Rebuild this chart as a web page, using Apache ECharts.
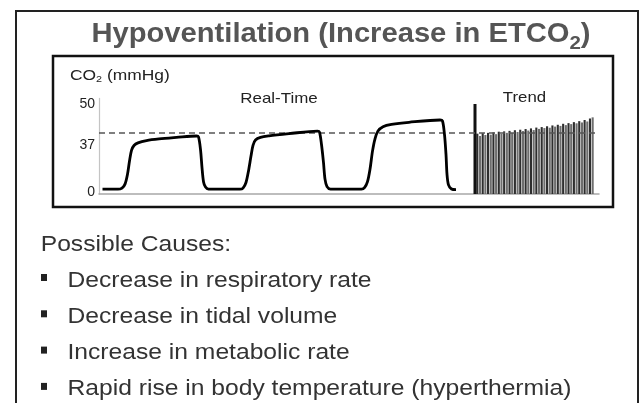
<!DOCTYPE html>
<html><head><meta charset="utf-8">
<script src="https://cdn.jsdelivr.net/npm/echarts@6/dist/echarts.min.js"></script>
<style>html,body{margin:0;padding:0;background:#fff}#c{width:641px;height:403px}</style>
</head><body><div id="c"></div>
<script>
// ---------- data ----------
const titleParts = ['Hypoventilation (Increase in ETCO', '2', ')'];
const yAxisTitleParts = ['CO', '2', ' (mmHg)'];
const realTimeLabel = 'Real-Time';
const trendLabel = 'Trend';
const yTickLabels = [0, 37, 50];
const normalLevel = 37;
// [time, CO2 mmHg]
const realTimeWave = [
  [0.7,2.9],[3.8,2.9],[4.6,3.6],[5.2,6.0],[5.7,12],[6.1,20],[6.5,26.5],[7.0,29.4],[7.8,31.0],[9.5,32.4],[12,33.4],[15.5,34.3],[19.5,35.2],[19.9,34.6],[20.3,27],[20.6,16],[20.9,7.5],[21.3,4.2],[21.9,3.0],[28.2,2.9],
  [28.8,3.6],[29.4,7],[29.9,14],[30.4,23],[30.8,29.5],[31.3,32.8],[32.3,34.4],[34,35.3],[38,36.6],[43.7,38.2],[44.1,37.6],[44.5,30],[44.9,19],[45.2,9],[45.6,4.5],[46.3,3.0],[52.5,2.9],
  [53.1,3.8],[53.7,7.5],[54.2,15],[54.7,26],[55.2,33.5],[55.8,38.2],[56.8,40.8],[58.5,42.2],[62,43.5],[68.2,44.9],[68.7,44.3],[69.1,36],[69.4,24],[69.6,12],[69.9,5.5],[70.5,3.0],[71.4,2.6]
];
const trendSeparator = [[75.2,0],[75.2,54.6]];
const trendBreaths = ['1','2','3','4','5','6','7','8','9','10','11','12','13','14','15','16','17','18','19','20','21','22',
  '23','24','25','26','27','28','29','30','31','32','33','34','35','36','37','38','39','40','41','42','43','44'];
const trendValues = [36.6,35.2,36.9,35.8,37.1,36.0,37.4,36.3,37.8,36.5,38.0,37.1,38.3,37.0,38.7,37.6,39.0,38.2,39.4,38.5,39.8,38.8,
  40.3,39.5,40.6,40.0,41.1,40.2,41.6,40.9,42.0,41.3,42.6,41.8,43.0,42.4,43.6,42.9,44.2,43.4,44.9,44.0,45.8,46.5];
const causesHeading = 'Possible Causes:';
const causes = [
  'Decrease in respiratory rate',
  'Decrease in tidal volume',
  'Increase in metabolic rate',
  'Rapid rise in body temperature (hyperthermia)'
];

// ---------- text helpers ----------
const FONT = '"Liberation Sans", Arial, Helvetica, sans-serif';
const mctx = document.createElement('canvas').getContext('2d');
function fontStr(size, weight){ return (weight||'normal') + ' ' + size + 'px ' + FONT; }
function runs(parts, anchorX, baseline, align, scaleX, fill){
  let total = 0;
  const widths = parts.map(p => { mctx.font = fontStr(p.size, p.weight); const w = mctx.measureText(p.text).width; total += w; return w; });
  let cx = align === 'center' ? -total/2 : 0;
  const children = parts.map((p, i) => {
    const el = {type:'text', x: cx, y: (p.dy||0) - 0.33*p.size,
      style:{text:p.text, font: fontStr(p.size,p.weight), fill: fill, align:'left', verticalAlign:'middle'}};
    cx += widths[i];
    return el;
  });
  return {type:'group', x: anchorX, y: baseline, scaleX: scaleX, children: children};
}

const graphics = [];
graphics.push({type:'rect', shape:{x:16, y:11, width:622, height:430}, style:{fill:'none', stroke:'#222', lineWidth:2}, z:0});
graphics.push({type:'rect', shape:{x:53, y:56, width:560, height:151}, style:{fill:'none', stroke:'#111', lineWidth:2.5}, z:0});
graphics.push(runs([
  {text:titleParts[0], size:27, weight:'bold'},
  {text:titleParts[1], size:19, weight:'bold', dy:7},
  {text:titleParts[2], size:27, weight:'bold'}], 341, 43.3, 'center', 1.08, '#555'));
graphics.push(runs([
  {text:yAxisTitleParts[0], size:14.5},
  {text:yAxisTitleParts[1], size:9, dy:2},
  {text:yAxisTitleParts[2], size:14.5}], 70, 80.7, 'left', 1.2, '#222'));
graphics.push(runs([{text:realTimeLabel, size:15}], 279, 104, 'center', 1.13, '#222'));
graphics.push(runs([{text:trendLabel, size:15}], 524.5, 103.3, 'center', 1.12, '#222'));
graphics.push(runs([{text:causesHeading, size:22}], 40.7, 251.7, 'left', 1.12, '#333'));
causes.forEach((c, i) => {
  const base = 287.7 + 36.3*i;
  graphics.push({type:'rect', shape:{x:41, y:base-13.7, width:6, height:7}, style:{fill:'#222'}});
  graphics.push(runs([{text:c, size:22}], 67.5, base, 'left', 1.12, '#333'));
});

// ---------- chart ----------
const chart = echarts.init(document.getElementById('c'), null, {renderer:'canvas'});
const labelRich = {
  up:{fontSize:14, color:'#222', fontFamily:FONT, padding:[0,0,14,0]},
  dn:{fontSize:14, color:'#222', fontFamily:FONT, padding:[24,0,0,0]},
  n:{fontSize:14, color:'#222', fontFamily:FONT, padding:[0,0,3,0]}
};
chart.setOption({
  animation:false,
  backgroundColor:'#fff',
  grid:[{left:99, right:42, top:98.4, bottom:209},{left:476, right:47, top:98.4, bottom:209}],
  xAxis:[
    {type:'value', gridIndex:0, min:0, max:100, axisLine:{show:true, lineStyle:{color:'#a8a8a8', width:1.5}},
      axisTick:{show:false}, axisLabel:{show:false}, splitLine:{show:false}},
    {type:'category', gridIndex:1, data:trendBreaths, show:false}
  ],
  yAxis:[
    {type:'value', gridIndex:0, min:0, max:58, axisLine:{show:true, lineStyle:{color:'#c4c4c4', width:1.2}},
      axisTick:{show:false}, splitLine:{show:false},
      axisLabel:{customValues:yTickLabels, margin:4,
        formatter: v => v === 50 ? '{up|50}' : (v === 37 ? '{dn|37}' : '{n|' + v + '}'), rich:labelRich}},
    {type:'value', gridIndex:1, min:0, max:58, show:false}
  ],
  series:[
    {type:'bar', xAxisIndex:1, yAxisIndex:1, data:trendValues, barWidth:2.1, z:2,
      itemStyle:{color: p => p.dataIndex % 2 ? '#6e6e6e' : '#2e2e2e'}},
    {type:'line', xAxisIndex:0, yAxisIndex:0, data:trendSeparator, symbol:'none', z:3,
      lineStyle:{color:'#111', width:3}},
    {type:'line', xAxisIndex:0, yAxisIndex:0, data:realTimeWave, symbol:'none', smooth:0.3, z:5,
      lineStyle:{color:'#000', width:2.8},
      markLine:{silent:true, symbol:['none','none'], label:{show:false},
        lineStyle:{type:[6,4], color:'#555', width:1.5}, data:[{yAxis:normalLevel}]}}
  ],
  graphic: graphics
});
</script>
</body></html>
